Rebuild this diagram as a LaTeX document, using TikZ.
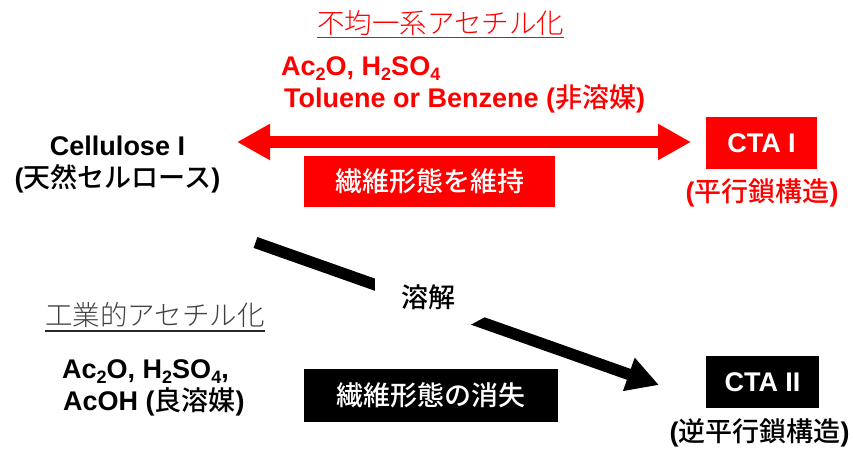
\documentclass[tikz,border=0pt]{standalone}
\usepackage{fontspec}
\setmainfont{Liberation Sans}
\IfFontExistsTF{Noto Sans CJK JP Medium}{\newfontfamily\jp{Noto Sans CJK JP}[BoldFont={Noto Sans CJK JP Medium}]}{\newfontfamily\jp{Noto Sans CJK JP}}
\IfFontExistsTF{Noto Sans CJK JP Light}{\newfontfamily\jplight{Noto Sans CJK JP Light}}{\newfontfamily\jplight{Noto Sans CJK JP}}
\usetikzlibrary{arrows.meta}
\newcommand\fsz{\fontsize{27}{33}\selectfont}
\newcommand\fst{\fontsize{27.5}{33}\selectfont}
\newcommand\J[1]{{\jp #1}}
\newcommand\sbs[1]{\raisebox{-0.2em}{\fontsize{18}{18}\selectfont #1}}
\definecolor{ttlgray}{HTML}{404040}
\tikzset{
  txt/.style={inner sep=0pt, font=\fsz\bfseries},
  ttl/.style={inner sep=0pt, font=\fst\jplight},
  redbox/.style={fill=red, text=white, inner sep=0pt, font=\fsz\bfseries},
  blackbox/.style={fill=black, text=white, inner sep=0pt, font=\fsz\bfseries},
  redarrow/.style={draw=red, line width=12pt, {Triangle[length=33pt,width=34pt]}-{Triangle[length=33pt,width=34pt]}},
  blackarrow/.style={draw=black, line width=11.5pt, -{Triangle[length=32pt,width=33pt]}},
}
\begin{document}
\begin{tikzpicture}[x=1pt,y=-1pt]
\useasboundingbox (0,0) rectangle (853,450);
% titles
\node[ttl, text=red, anchor=base west] (t1) at (317,33.4) {不均一系アセチル化};
\draw[red, line width=1.3pt] ([yshift=-4pt]t1.base west) -- ([yshift=-4pt]t1.base east);
\node[ttl, text=ttlgray, anchor=base west] (t2) at (45,325.4) {工業的アセチル化};
\draw[black!85, line width=1.3pt] ([yshift=-5.5pt]t2.base west) -- ([yshift=-5.5pt]t2.base east);
% red reagents
\node[txt, text=red, anchor=base west] (r1) at (281,75) {Ac\sbs{2}O, H\sbs{2}SO\sbs{4}};
\node[txt, text=red, anchor=base west] (r2) at (284,107) {Toluene or Benzene (\J{非溶媒})};
% Cellulose I
\node[txt, anchor=base] (cell1) at (117.5,155) {Cellulose I};
\node[txt, anchor=base] (cell2) at (117.5,187.5) {(\J{天然セルロース})};
% CTA I
\node[redbox, minimum width=111pt, minimum height=52pt] (ctaI) at (761.5,143) {CTA I};
\node[txt, text=red, anchor=base] (ctaIl) at (762,201.5) {(\J{平行鎖構造})};
\node[redbox, minimum width=251pt, minimum height=51pt] (keep) at (429.5,181.5) {\J{繊維形態を維持}};
% red double arrow
\coordinate (rl) at (237,142);
\coordinate (rr) at (691,142);
\draw[redarrow] (rl) -- (rr);
% black arrow
\coordinate (bs) at (255.5,242.5);
\coordinate (bt) at (659,385);
\draw[blackarrow] (bs) -- (bt);
\fill[white] (375,265) -- (375,305) -- (465,327.7) -- (492,313.2) -- (430,265) -- cycle;
\node[txt, anchor=center] (diss) at (428,297) {\J{溶解}};
% lower reagents
\node[txt, anchor=base west] (b1) at (62,378) {Ac\sbs{2}O, H\sbs{2}SO\sbs{4},};
\node[txt, anchor=base west] (b2) at (63,410) {AcOH (\J{良溶媒})};
\node[blackbox, minimum width=254pt, minimum height=53pt] (lose) at (431,395.5) {\J{繊維形態の消失}};
% CTA II
\node[blackbox, minimum width=113pt, minimum height=52pt] (ctaII) at (762.5,382) {CTA II};
\node[txt, anchor=base] (ctaIIl) at (759.5,441.5) {(\J{逆平行鎖構造})};
\end{tikzpicture}
\end{document}
